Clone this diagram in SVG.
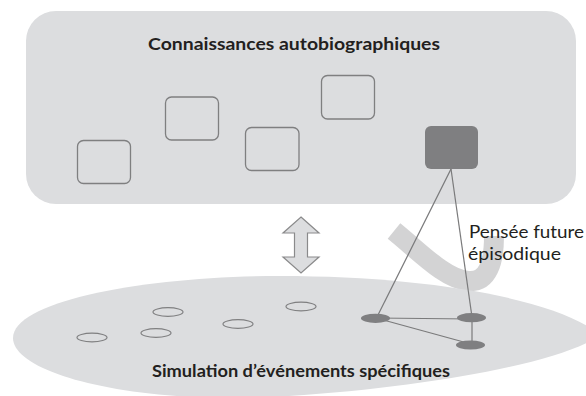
<svg xmlns="http://www.w3.org/2000/svg" width="586" height="396" viewBox="0 0 586 396">
<defs>
<style>
.bg{fill:#dcdddf;}
.box{fill:none;stroke:#7f7f80;stroke-width:1.3;}
.dark{fill:#7f7f81;}
.ev{fill:none;stroke:#7f7f80;stroke-width:1.2;}
.link{fill:none;stroke:#7a7a7b;stroke-width:1.2;}
.title{font-family:Lato,"Open Sans","Liberation Sans",sans-serif;font-weight:bold;font-size:17.5px;fill:#231f20;}
.label{font-family:Lato,"Open Sans","Liberation Sans",sans-serif;font-size:18px;fill:#231f20;}
</style>
</defs>
<g id="autobio">
<rect class="bg" x="26" y="11" width="550" height="193" rx="30" ry="30"/>
<text class="title" x="148" y="50" textLength="292" lengthAdjust="spacingAndGlyphs">Connaissances autobiographiques</text>
</g>
<path id="band" d="M 394 231 C 420 252 445 279 468 281 C 488 283 494 262 494 236" fill="none" stroke="#d3d3d4" stroke-width="20"/>
<g id="simulation">
<path class="bg" d="M 13 338 C 13 300 150 276 280 276 C 430 276 560 300 600 335 C 560 365 400 392 250 398 C 110 400 13 370 13 338 Z"/>
<text class="title" x="152" y="377" textLength="298" lengthAdjust="spacingAndGlyphs">Simulation d’événements spécifiques</text>
</g>
<g id="k1"><rect class="box" x="77.5" y="140.5" width="53" height="43" rx="6"/></g>
<g id="k2"><rect class="box" x="165.5" y="97" width="53" height="43" rx="6"/></g>
<g id="k3"><rect class="box" x="245.5" y="127.5" width="53.5" height="43" rx="6"/></g>
<g id="k4"><rect class="box" x="321.5" y="75.5" width="53" height="43.5" rx="6"/></g>
<g id="k5"><rect class="dark" x="425" y="126" width="53" height="43" rx="6"/></g>
<g id="arrow">
<path d="M 301 217 L 319 233 L 307.5 233 L 307.5 257 L 319 257 L 301 273 L 283 257 L 294.5 257 L 294.5 233 L 283 233 Z" fill="#dcdddf" stroke="#8a8a8b" stroke-width="1.2" stroke-linejoin="miter"/>
</g>
<g id="e1"><ellipse class="ev" cx="92" cy="337.5" rx="15" ry="4.3"/></g>
<g id="e2"><ellipse class="ev" cx="168" cy="312" rx="15" ry="4.3"/></g>
<g id="e3"><ellipse class="ev" cx="156" cy="333" rx="15" ry="4.3"/></g>
<g id="e4"><ellipse class="ev" cx="238" cy="324" rx="15" ry="4.3"/></g>
<g id="e5"><ellipse class="ev" cx="301" cy="306.5" rx="15" ry="4.3"/></g>
<g id="connectors">
<line class="link" x1="451" y1="169" x2="377" y2="317"/>
<line class="link" x1="451" y1="169" x2="472" y2="317"/>
<line class="link" x1="376" y1="318" x2="471" y2="319"/>
<line class="link" x1="376" y1="318" x2="471" y2="344"/>
<line class="link" x1="472" y1="318" x2="472" y2="345"/>
</g>
<g id="d1"><ellipse class="dark" cx="375.5" cy="318.3" rx="14.5" ry="4.6"/></g>
<g id="d2"><ellipse class="dark" cx="471.5" cy="317.7" rx="14.5" ry="4.6"/></g>
<g id="d3"><ellipse class="dark" cx="470.5" cy="345" rx="14.5" ry="4.6"/></g>
<g id="label">
<text class="label" x="469" y="238" textLength="115" lengthAdjust="spacingAndGlyphs">Pensée future</text>
<text class="label" x="468" y="260" textLength="93" lengthAdjust="spacingAndGlyphs">épisodique</text>
</g>
</svg>
